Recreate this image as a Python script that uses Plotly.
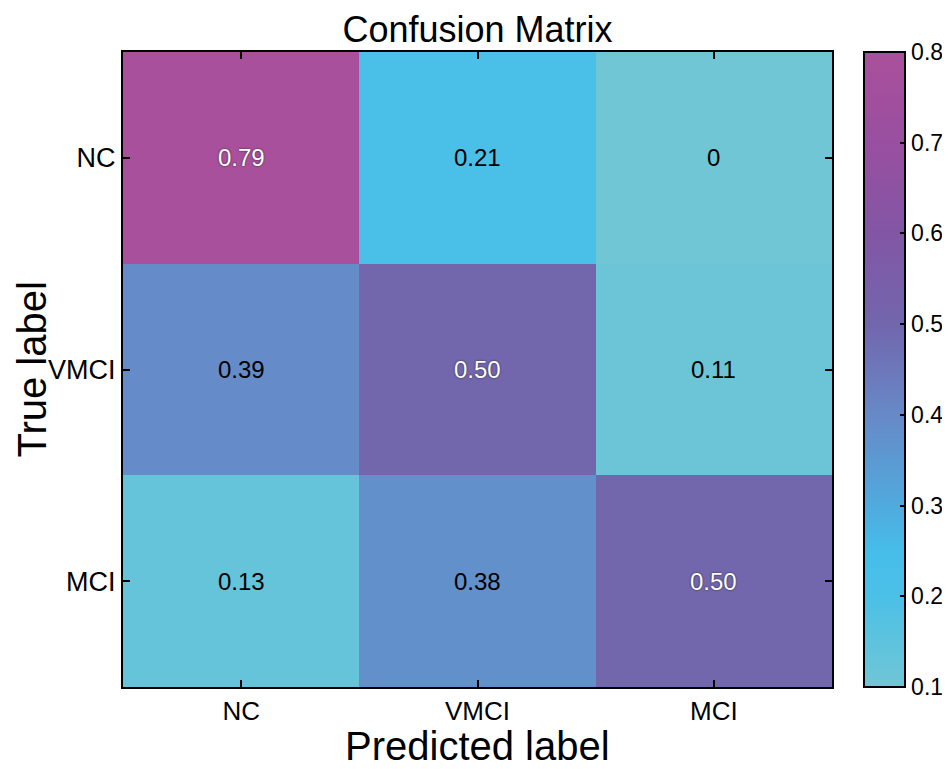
import plotly.graph_objects as go

# class labels and confusion matrix values (rows = true, cols = predicted)
pred_labels = ["NC", "VMCI", "MCI"]
true_labels = ["NC", "VMCI", "MCI"]
cm_values = [
    [0.79, 0.21, 0.00],
    [0.39, 0.50, 0.11],
    [0.13, 0.38, 0.50],
]
cbar_ticks = [0.1, 0.2, 0.3, 0.4, 0.5, 0.6, 0.7, 0.8]

# cyan -> blue -> purple -> magenta, as in the figure
colorscale = [
    [0.0, "#70C6D5"],
    [0.143, "#4BC0E7"],
    [0.214, "#46BDEA"],
    [0.286, "#50AADD"],
    [0.429, "#6789C7"],
    [0.571, "#7266AD"],
    [0.714, "#8256A5"],
    [0.857, "#994FA0"],
    [1.0, "#AA509B"],
]

FONT = "Liberation Sans, Arial, sans-serif"

# page body keeps an 8px margin, so the figure is 8px smaller each way
W, H = 942, 761
L, R, T, B = 115, W - 824, 44, H - 679
PW, PH = 824 - L, 679 - T

fig = go.Figure()
fig.add_trace(go.Heatmap(
    z=cm_values, x=pred_labels, y=true_labels,
    zmin=0.1, zmax=0.8,
    colorscale=colorscale,
    xgap=0, ygap=0,
    hoverinfo="z",
    colorbar=dict(
        thickness=41, len=1, lenmode="fraction",
        x=(856 - L) / PW, xanchor="left", xpad=0,
        y=0.5, yanchor="middle", ypad=0,
        outlinewidth=2, outlinecolor="black",
        tickvals=cbar_ticks, ticktext=[f"{t:.1f}" for t in cbar_ticks],
        ticks="inside", ticklen=6, tickwidth=2, tickcolor="black",
        tickfont=dict(family=FONT, size=23, color="black"),
    ),
))

# cell value labels
annotations = []
for i, row_label in enumerate(true_labels):
    for j, col_label in enumerate(pred_labels):
        v = cm_values[i][j]
        txt = "0" if v == 0 else f"{v:.2f}"
        white = v > 0.45
        annotations.append(dict(
            x=col_label, y=row_label, xref="x", yref="y",
            text=txt, showarrow=False,
            font=dict(family=FONT, size=24,
                      color="white" if white else "black",
                      shadow="0px 0px 2px #222" if white else "none"),
        ))

# axis titles as annotations so they can sit where the figure has them
annotations.append(dict(
    text="Predicted label", xref="paper", yref="paper",
    x=0.5, y=-(738 - 679) / PH, xanchor="center", yanchor="middle",
    showarrow=False, font=dict(family=FONT, size=40, color="black"),
))
annotations.append(dict(
    text="True label", xref="paper", yref="paper", textangle=-90,
    x=(23 - L) / PW, y=0.5, xanchor="center", yanchor="middle",
    showarrow=False, font=dict(family=FONT, size=40, color="black"),
))

axis_common = dict(
    showline=True, linewidth=2, linecolor="black", mirror="ticks",
    ticks="inside", ticklen=7, tickwidth=2, tickcolor="black",
    showgrid=False, zeroline=False, automargin=False,
)

fig.update_layout(
    width=W, height=H,
    margin=dict(l=L, r=R, t=T, b=B, autoexpand=False),
    paper_bgcolor="white", plot_bgcolor="white",
    font=dict(family=FONT, color="black"),
    title=dict(text="Confusion Matrix", x=0.5, xref="paper",
               y=1 - 21 / H, yref="container", yanchor="middle",
               font=dict(family=FONT, size=36, color="black")),
    xaxis=dict(**axis_common,
               tickfont=dict(family=FONT, size=26, color="black")),
    yaxis=dict(**axis_common, autorange="reversed",
               tickfont=dict(family=FONT, size=27, color="black")),
    annotations=annotations,
)

fig.write_html("out.html")
